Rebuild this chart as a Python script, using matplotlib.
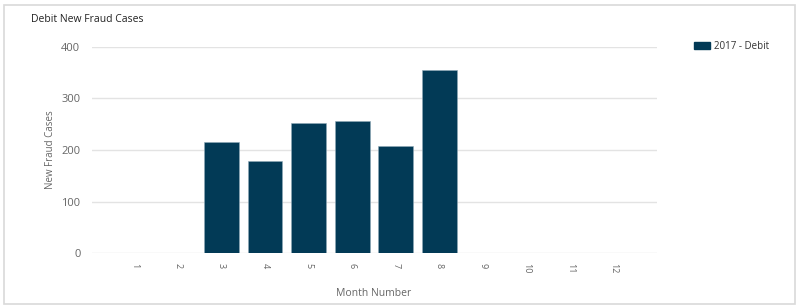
import matplotlib
matplotlib.use("Agg")
import matplotlib.pyplot as plt
from matplotlib.patches import Rectangle, Patch

months = [1, 2, 3, 4, 5, 6, 7, 8, 9, 10, 11, 12]
month_labels = [str(m) for m in months]
cases = [0, 0, 216, 178, 252, 257, 207, 355, 0, 0, 0, 0]
series_name = "2017 - Debit"
yticks = [0, 100, 200, 300, 400]

plt.rcParams['font.family'] = ['Open Sans', 'DejaVu Sans']
bar_color = '#023A56'
tick_color = '#666666'

fig = plt.figure(figsize=(8, 3.08), dpi=100)
fig.patches.append(Rectangle((4/800, 4/308), 791/800, 299/308, transform=fig.transFigure,
                             fill=False, edgecolor='#d9d9d9', linewidth=1.2))

ax = fig.add_axes([91.5/800, 54.6/308, 565/800, 206.8/308])
ax.bar(months, cases, width=0.8, color=bar_color, edgecolor='#8fa9b8', linewidth=0.4, zorder=3)
ax.set_xlim(0.02, 12.98)
ax.set_ylim(0, 400)
ax.set_yticks(yticks)
ax.set_yticklabels([str(v) for v in yticks])
ax.set_xticks(months)
ax.set_xticklabels(month_labels, rotation=-90)
ax.grid(axis='y', color='#e3e3e3', linewidth=1, zorder=0)
for s in ax.spines.values():
    s.set_visible(False)
ax.tick_params(axis='y', length=0, pad=8, labelsize=8, colors=tick_color)
ax.tick_params(axis='x', length=0, pad=7, labelsize=6.5, colors=tick_color)
ax.set_ylabel("New Fraud Cases", fontsize=7, color=tick_color, labelpad=4)
ax.set_xlabel("Month Number", fontsize=7.5, color=tick_color, labelpad=10)

fig.text(31/800, 1 - 20/308, "Debit New Fraud Cases", fontsize=7.5, color='#222222',
         ha='left', va='center')

leg = fig.legend(handles=[Patch(facecolor=bar_color, edgecolor=bar_color, label=series_name)],
                 loc='upper left', bbox_to_anchor=(692/800, 1 - 39/308), frameon=False,
                 fontsize=7, handlelength=1.6, handleheight=0.7, handletextpad=0.5,
                 borderaxespad=0, borderpad=0.2)
for t in leg.get_texts():
    t.set_color('#333333')

fig.savefig("out.png", dpi=100)
